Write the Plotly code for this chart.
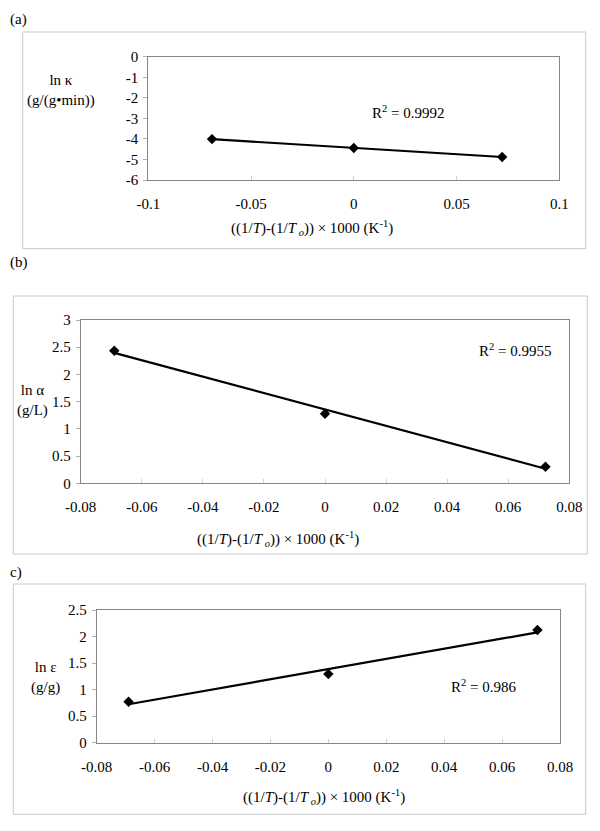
import numpy as np
import plotly.graph_objects as go

# reciprocal temperature difference, shared by the three panels
dT_inv = [-0.069, 0.0, 0.0722]

ln_kappa = [-4.01, -4.44, -4.88]
ln_alpha = [2.436, 1.279, 0.305]
ln_eps = [0.772, 1.294, 2.123]

r2_labels = ['R<sup>2</sup> = 0.9992', 'R<sup>2</sup> = 0.9955', 'R<sup>2</sup> = 0.986']
panel_labels = ['(a)', '(b)', 'c)']
y_titles = ['ln κ<br>(g/(g•min))', 'ln α<br>(g/L)', 'ln ε<br>(g/g)']

xticks_a = [-0.1, -0.05, 0, 0.05, 0.1]
xticks_a_text = ['-0.1', '-0.05', '0', '0.05', '0.1']
xticks_bc = [-0.08, -0.06, -0.04, -0.02, 0, 0.02, 0.04, 0.06, 0.08]
xticks_bc_text = ['-0.08', '-0.06', '-0.04', '-0.02', '0', '0.02', '0.04', '0.06', '0.08']
yticks_a = [0, -1, -2, -3, -4, -5, -6]
yticks_a_text = ['0', '-1', '-2', '-3', '-4', '-5', '-6']
yticks_b = [0, 0.5, 1, 1.5, 2, 2.5, 3]
yticks_b_text = ['0', '0.5', '1', '1.5', '2', '2.5', '3']
yticks_c = [0, 0.5, 1, 1.5, 2, 2.5]
yticks_c_text = ['0', '0.5', '1', '1.5', '2', '2.5']

W, H = 600, 831
OFF = 8  # page body margin pushes the graph down/right
FONT = 'Liberation Serif, Times New Roman, serif'
FS = 15
x_title = '((1/<i>T</i>)-(1/<i>T</i><sub><i> o</i></sub>)) × 1000 (K<sup>-1</sup>)'


def px(x):
    return (x - OFF) / W


def py(y):
    return 1 - (y - OFF) / H


fig = go.Figure()

panels = [
    dict(y=ln_kappa, xr=[-0.1, 0.1], yr=[-6, 0], xt=(xticks_a, xticks_a_text), yt=(yticks_a, yticks_a_text),
         plot=(148.3, 56.7, 559.3, 180), box=(22.7, 32, 585.7, 248.7),
         label=(8, 20), ytitle=(61, 90), r2=(408, 112), xtitle=(312, 228)),
    dict(y=ln_alpha, xr=[-0.08, 0.08], yr=[0, 3], xt=(xticks_bc, xticks_bc_text), yt=(yticks_b, yticks_b_text),
         plot=(80.7, 320, 569.3, 483.3), box=(13.3, 296, 587.3, 554),
         label=(8, 263), ytitle=(32, 400), r2=(515, 350), xtitle=(278, 539)),
    dict(y=ln_eps, xr=[-0.08, 0.08], yr=[0, 2.5], xt=(xticks_bc, xticks_bc_text), yt=(yticks_c, yticks_c_text),
         plot=(96.7, 610, 560, 742.7), box=(13.3, 584, 585.7, 814.3),
         label=(8, 572), ytitle=(45, 677), r2=(483, 686), xtitle=(324, 797)),
]

for i, p in enumerate(panels):
    n = '' if i == 0 else str(i + 1)
    xa, ya = 'x' + n, 'y' + n

    # linear trendline through the three points
    slope, icpt = np.polyfit(dT_inv, p['y'], 1)
    tx = [dT_inv[0], dT_inv[-1]]
    ty = [slope * v + icpt for v in tx]

    fig.add_trace(go.Scatter(x=tx, y=ty, mode='lines', xaxis=xa, yaxis=ya,
                             line=dict(color='black', width=2.2), showlegend=False))
    fig.add_trace(go.Scatter(x=dT_inv, y=p['y'], mode='markers', xaxis=xa, yaxis=ya,
                             marker=dict(symbol='diamond', size=8, color='black'), showlegend=False))

    x0, y0, x1, y1 = p['plot']
    common = dict(showgrid=False, zeroline=False, showline=True, mirror=True, automargin=False,
                  linecolor='#868686', linewidth=1, ticklen=4,
                  tickfont=dict(family=FONT, size=FS, color='black'))
    fig.update_layout({
        'xaxis' + n: dict(domain=[px(x0), px(x1)], range=p['xr'], anchor=ya,
                          ticks='inside', tickcolor='#d0d0d0', ticklabelstandoff=10,
                          tickvals=p['xt'][0], ticktext=p['xt'][1], **common),
        'yaxis' + n: dict(domain=[py(y1), py(y0)], range=p['yr'], anchor=xa,
                          ticks='outside', tickcolor='#b0b0b0', ticklabelstandoff=2,
                          tickvals=p['yt'][0], ticktext=p['yt'][1], **common),
    })

    bx0, by0, bx1, by1 = p['box']
    fig.add_shape(type='rect', xref='paper', yref='paper',
                  x0=px(bx0), x1=px(bx1), y0=py(by1), y1=py(by0),
                  line=dict(color='#c8c8c8', width=1))

    txt = dict(xref='paper', yref='paper', showarrow=False,
               font=dict(family=FONT, size=FS, color='black'))
    fig.add_annotation(x=px(p['label'][0]), y=py(p['label'][1]), text=panel_labels[i],
                       xanchor='left', yanchor='middle', **txt)
    fig.add_annotation(x=px(p['ytitle'][0]), y=py(p['ytitle'][1]), text=y_titles[i],
                       xanchor='center', yanchor='middle', **txt)
    fig.add_annotation(x=px(p['r2'][0]), y=py(p['r2'][1]), text=r2_labels[i],
                       xanchor='center', yanchor='middle', **txt)
    fig.add_annotation(x=px(p['xtitle'][0]), y=py(p['xtitle'][1]), text=x_title,
                       xanchor='center', yanchor='middle', **txt)

fig.update_layout(template='none', width=W, height=H, autosize=False,
                  margin=dict(l=0, r=0, t=0, b=0, pad=0),
                  paper_bgcolor='white', plot_bgcolor='white',
                  font=dict(family=FONT, size=FS, color='black'))

fig.write_html('out.html')
